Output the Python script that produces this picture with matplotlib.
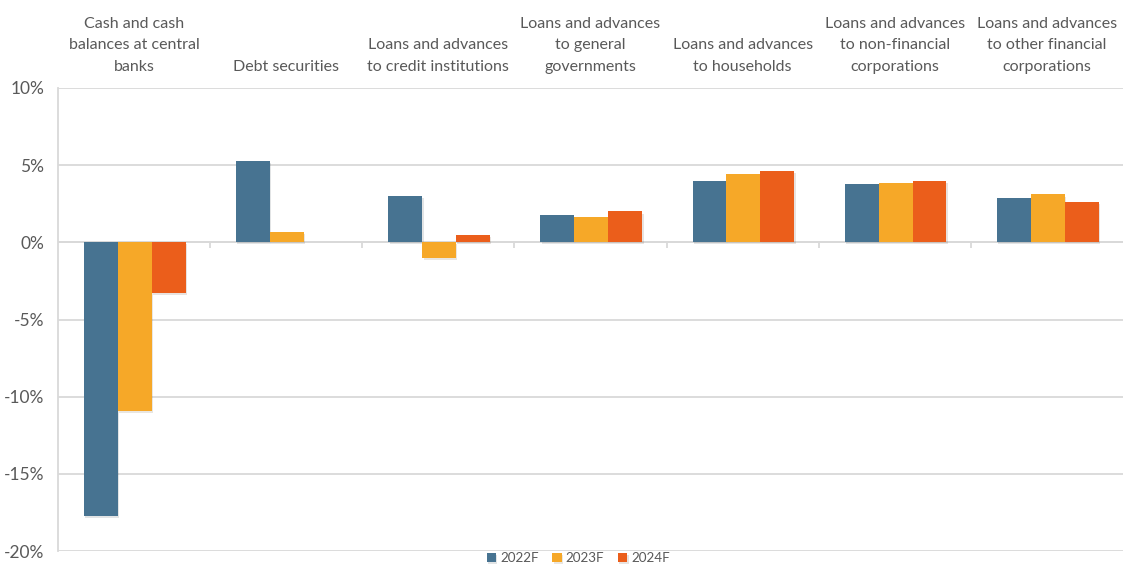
import matplotlib
matplotlib.use("Agg")
import matplotlib.pyplot as plt
import matplotlib.patheffects as pe
import numpy as np

categories = [
    "Cash and cash\nbalances at central\nbanks",
    "Debt securities",
    "Loans and advances\nto credit institutions",
    "Loans and advances\nto general\ngovernments",
    "Loans and advances\nto households",
    "Loans and advances\nto non-financial\ncorporations",
    "Loans and advances\nto other financial\ncorporations",
]
series_names = ["2022F", "2023F", "2024F"]
v2022 = [-17.7, 5.25, 3.0, 1.8, 3.95, 3.8, 2.85]
v2023 = [-10.9, 0.7, -1.0, 1.65, 4.45, 3.85, 3.1]
v2024 = [-3.3, 0.0, 0.5, 2.0, 4.6, 4.0, 2.6]
colors = ["#477391", "#F6A828", "#EB5E1B"]

plt.rcParams['font.family'] = ['Lato', 'DejaVu Sans']
fig = plt.figure(figsize=(11.25, 5.66), dpi=100)
ax = fig.add_axes([58/1125, 1-551/566, 1-58/1125-2/1125, (551-88)/566])

x = np.arange(len(categories))
w = 0.223
shadow = [pe.SimplePatchShadow(offset=(1, -1.5), alpha=0.12), pe.Normal()]
for k, (vals, name, c) in enumerate(zip([v2022, v2023, v2024], series_names, colors)):
    bars = ax.bar(x + (k-1)*w + 0.005, vals, w, color=c, label=name, zorder=3)
    for b in bars:
        b.set_path_effects(shadow)

ax.set_xlim(-0.5, len(categories)-0.5)
ax.set_ylim(-20, 10)
yt = [10, 5, 0, -5, -10, -15, -20]
ax.set_yticks(yt)
ax.set_yticklabels([f"{t}%" for t in yt], color="#595959", fontsize=12.5)
ax.tick_params(axis='y', length=0, pad=10)
ax.grid(axis='y', color="#D9D9D9", linewidth=1.3, zorder=0)
ax.set_axisbelow(True)

ax.xaxis.set_ticks_position('top')
ax.set_xticks(x)
ax.set_xticklabels(categories, color="#595959", fontsize=11.5, linespacing=1.72)
ax.tick_params(axis='x', length=0, pad=9.8)

for s in ['top', 'right', 'bottom']:
    ax.spines[s].set_visible(False)
ax.spines['left'].set_color("#D9D9D9")
ax.spines['left'].set_linewidth(1.3)

ax.axhline(0, color="#D9D9D9", linewidth=1.3, zorder=2)
ax.vlines(x[:-1] + 0.5, -0.35, 0, color="#D9D9D9", linewidth=1.3, zorder=2)

fig.legend(loc='center', bbox_to_anchor=(0.514, 1-558/566), ncol=3, frameon=False,
           fontsize=9.7, handlelength=0.7, handleheight=0.7, handletextpad=0.3,
           columnspacing=1.0, labelcolor="#595959", borderaxespad=0, borderpad=0)

fig.savefig("out.png", dpi=100)
